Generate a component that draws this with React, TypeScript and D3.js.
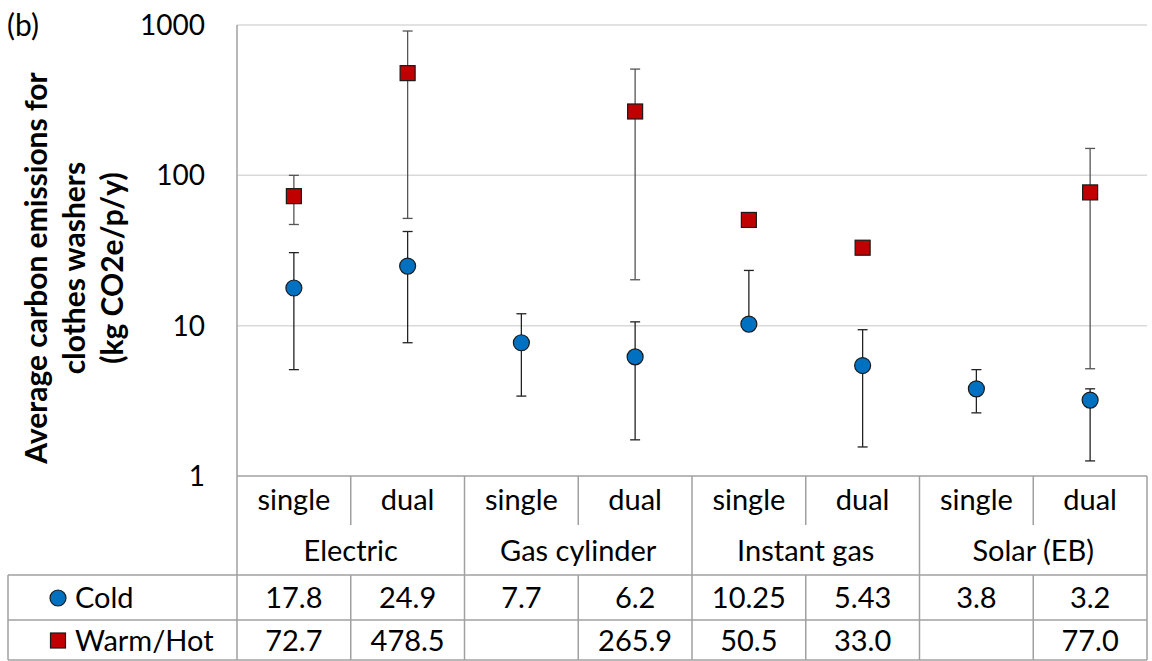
import React from "react";
import * as d3 from "d3";

const subCategories = ["single", "dual", "single", "dual", "single", "dual", "single", "dual"];
const groups = ["Electric", "Gas cylinder", "Instant gas", "Solar (EB)"];
const coldValues = [17.8, 24.9, 7.7, 6.2, 10.25, 5.43, 3.8, 3.2];
const coldLow = [5.1, 7.7, 3.4, 1.74, 10.25, 1.56, 2.63, 1.26];
const coldHigh = [30.6, 42.3, 12.0, 10.6, 23.3, 9.4, 5.1, 3.8];
const warmValues: (number | null)[] = [72.7, 478.5, null, 265.9, 50.5, 33.0, null, 77.0];
const warmLow: (number | null)[] = [47.1, 51.7, null, 20.2, null, null, null, 5.17];
const warmHigh: (number | null)[] = [100, 912, null, 509, null, null, null, 151];
const yTicks = [1, 10, 100, 1000];
const seriesNames = ["Cold", "Warm/Hot"];
const titleLines = ["Average carbon emissions for", "clothes washers", "(kg CO2e/p/y)"];

const W = 1152;
const H = 661;
const left = 237;
const right = 1147;
const top = 25;
const bottom = 476;
const FONT = "Lato, 'Open Sans', sans-serif";
const BLUE = "#0070C0";
const RED = "#C00000";
const GRID = "#D9D9D9";
const TLINE = "#A0A0A0";
const TFS = 29;

export default function App() {
  const idx = d3.range(subCategories.length);
  const x = d3.scaleBand<number>().domain(idx).range([left, right]);
  const y = d3.scaleLog().domain([1, 1000]).range([bottom, top]);
  const cx = (i: number) => (x(i) as number) + x.bandwidth() / 2;
  const bw = x.bandwidth();

  const row1Bottom = 525;
  const row2Bottom = 575;
  const row3Bottom = 620;
  const row4Bottom = 660;
  const tableLeft = 8;

  const errBar = (i: number, lo: number, hi: number, color: string, key: string) => (
    <g key={key} stroke={color} strokeWidth={1.3}>
      <line x1={cx(i)} x2={cx(i)} y1={y(hi)} y2={y(lo)} />
      <line x1={cx(i) - 5} x2={cx(i) + 5} y1={y(hi)} y2={y(hi)} />
      {lo !== hi && <line x1={cx(i) - 5} x2={cx(i) + 5} y1={y(lo)} y2={y(lo)} />}
    </g>
  );

  return (
    <svg width={W} height={H} style={{ position: "absolute", left: 0, top: 0 }} fontFamily={FONT}>
      <rect width={W} height={H} fill="#fff" />
      {yTicks.filter((t) => t > 1).map((t) => (
        <line key={t} x1={left} x2={right} y1={y(t)} y2={y(t)} stroke={GRID} strokeWidth={1.5} />
      ))}
      <line x1={left} x2={left} y1={top} y2={row2Bottom} stroke={TLINE} strokeWidth={1.5} />
      {yTicks.map((t) => (
        <text key={t} x={205} y={y(t)} dy="0.36em" textAnchor="end" fontSize={28} fill="#000">
          {t}
        </text>
      ))}
      <text x={7} y={25} dy="0.36em" fontSize={30}>(b)</text>
      <g transform={`translate(0,268)`}>
        {titleLines.map((s, k) => (
          <text
            key={k}
            transform={`translate(${47 + k * 38},0) rotate(-90)`}
            textAnchor="middle"
            fontSize={30}
            fontWeight="bold"
          >
            {s}
          </text>
        ))}
      </g>
      {idx.map((i) =>
        warmValues[i] != null && warmLow[i] != null && warmHigh[i] != null
          ? errBar(i, warmLow[i] as number, warmHigh[i] as number, "#555", "w" + i)
          : null
      )}
      {idx.map((i) => errBar(i, coldLow[i], coldHigh[i], "#222", "c" + i))}
      {idx.map((i) =>
        warmValues[i] != null ? (
          <rect
            key={"wm" + i}
            x={cx(i) - 7.5}
            y={y(warmValues[i] as number) - 7.5}
            width={15}
            height={15}
            fill={RED}
            stroke="#1a1a1a"
            strokeWidth={1.2}
          />
        ) : null
      )}
      {idx.map((i) => (
        <circle key={"cm" + i} cx={cx(i)} cy={y(coldValues[i])} r={8} fill={BLUE} stroke="#1a1a1a" strokeWidth={1.2} />
      ))}
      <g stroke={TLINE} strokeWidth={1.5}>
        <line x1={left} x2={right} y1={bottom} y2={bottom} />
        <line x1={tableLeft} x2={right} y1={row2Bottom} y2={row2Bottom} />
        <line x1={tableLeft} x2={right} y1={row3Bottom} y2={row3Bottom} />
        <line x1={tableLeft} x2={right} y1={row4Bottom} y2={row4Bottom} />
        <line x1={tableLeft} x2={tableLeft} y1={row2Bottom} y2={row4Bottom} />
        <line x1={left} x2={left} y1={row2Bottom} y2={row4Bottom} />
        {idx.map((i) => {
          const xr = (x(i) as number) + bw;
          const isGroupEnd = i % 2 === 1;
          return (
            <g key={"v" + i}>
              <line x1={xr} x2={xr} y1={bottom} y2={isGroupEnd ? row4Bottom : row1Bottom} />
              {!isGroupEnd && <line x1={xr} x2={xr} y1={row2Bottom} y2={row4Bottom} />}
            </g>
          );
        })}
      </g>
      {idx.map((i) => (
        <text key={"s" + i} x={cx(i)} y={500} dy="0.36em" textAnchor="middle" fontSize={TFS}>
          {subCategories[i]}
        </text>
      ))}
      {groups.map((g, k) => (
        <text key={g} x={(x(2 * k) as number) + bw} y={551} dy="0.36em" textAnchor="middle" fontSize={TFS}>
          {g}
        </text>
      ))}
      {idx.map((i) => (
        <text key={"cv" + i} x={cx(i)} y={598} dy="0.36em" textAnchor="middle" fontSize={TFS}>
          {String(coldValues[i])}
        </text>
      ))}
      {idx.map((i) =>
        warmValues[i] != null ? (
          <text key={"wv" + i} x={cx(i)} y={641} dy="0.36em" textAnchor="middle" fontSize={TFS}>
            {(warmValues[i] as number).toFixed(1)}
          </text>
        ) : null
      )}
      <circle cx={58} cy={598} r={8} fill={BLUE} stroke="#1a1a1a" strokeWidth={1.2} />
      <text x={75} y={598} dy="0.36em" fontSize={TFS}>{seriesNames[0]}</text>
      <rect x={50.5} y={633} width={15} height={15} fill={RED} stroke="#1a1a1a" strokeWidth={1.2} />
      <text x={75} y={641} dy="0.36em" fontSize={TFS}>{seriesNames[1]}</text>
    </svg>
  );
}
